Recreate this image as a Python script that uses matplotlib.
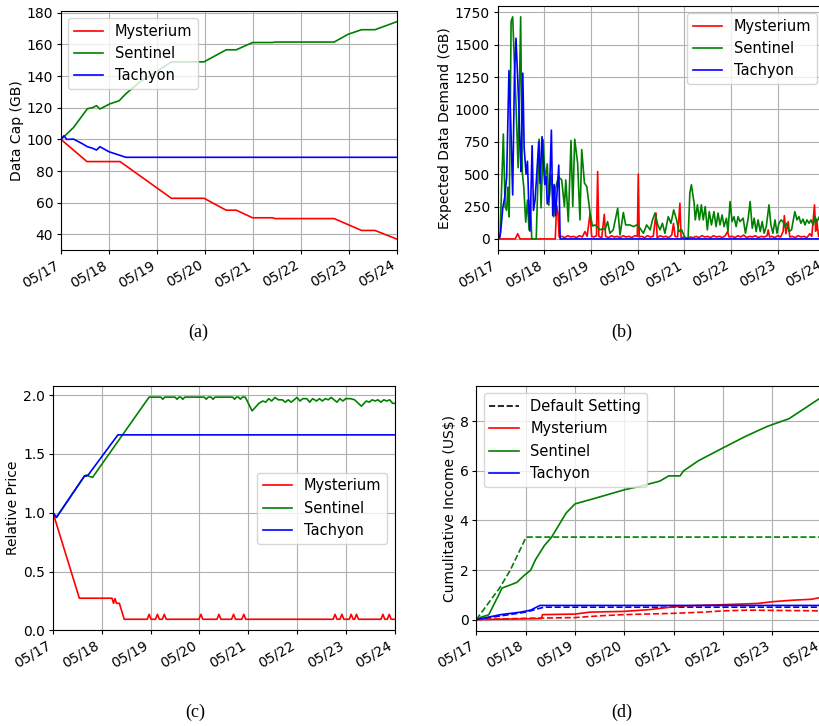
# Node operator data: data cap, demand, price and income over one week

import matplotlib.pyplot as plt
import matplotlib.dates as mdates
import pandas as pd

START = pd.Timestamp("2023-05-17")

# (a) Data cap (GB), time in days
cap_my_t = [0, 0.54, 1.23, 2.3, 2.98, 3.44, 3.65, 3.99, 4.41, 4.46, 5.69, 6.26, 6.54, 7.0]
cap_my_v = [100, 86, 86, 62.8, 62.8, 55.3, 55.3, 50.5, 50.5, 50, 50, 42.5, 42.5, 37]
cap_se_t = [0, 0.26, 0.55, 0.65, 0.74, 0.81, 1.02, 1.21, 1.35, 1.65, 2.0, 2.3, 2.98,
            3.44, 3.65, 3.99, 4.41, 4.46, 5.69, 5.98, 6.26, 6.54, 7.0]
cap_se_v = [100, 107.5, 119.4, 120, 121.3, 119.2, 122.5, 124.4, 128.8, 136.5, 143, 149, 149,
            156.6, 156.6, 161.2, 161.2, 161.5, 161.5, 166.4, 169.3, 169.3, 174.4]
cap_ta_t = [0, 0.06, 0.12, 0.26, 0.43, 0.55, 0.65, 0.74, 0.81, 1.0, 1.2, 1.35, 7.0]
cap_ta_v = [100, 102.3, 100, 100.2, 97.5, 95.4, 94.5, 93.3, 95.4, 92.2, 90.2, 88.7, 88.7]

# (b) Expected data demand (GB), time in hours
dem_my_h = [0, 9, 10.3, 11.5, 29.6, 30.3, 31.0, 31.6, 33, 34.5, 36, 37.5, 39, 40.5, 42, 43.5,
            44.9, 46, 47.5, 48.3, 49.5, 50.8, 51.4, 52, 53.5, 54.8, 55.5, 57, 58.5, 60, 61.5,
            63, 64.5, 66, 67.5, 69, 70.5, 71.8, 72.3, 72.8, 74, 75.5, 77, 78.5, 80, 81.4, 82,
            83.5, 85, 86.5, 88, 89.5, 90.4, 91.2, 92.5, 93.7, 94.3, 96, 97.5, 99, 100.5, 102,
            103.5, 105, 106.5, 108, 109.5, 111, 112.5, 114, 115.5, 117, 118.2, 119, 120.5, 122,
            123.5, 125, 126.5, 128, 129.5, 131, 132.5, 134, 135.5, 137, 138.5, 139.1, 139.8,
            141, 142.5, 144, 145.5, 146.8, 147.4, 148.2, 149.4, 150.2, 151.5, 153, 154.5, 156,
            157.5, 159, 160.5, 161.5, 162.9, 163.5, 164, 165, 166.5, 168]
dem_my_v = [0, 0, 40, 0, 0, 260, 200, 15, 20, 10, 25, 15, 20, 10, 25, 15,
            57, 20, 200, 20, 15, 25, 520, 20, 10, 190, 20, 10, 25, 15, 20,
            10, 25, 15, 20, 10, 25, 20, 500, 15, 20, 10, 25, 15, 20, 200, 10,
            25, 15, 20, 10, 30, 120, 20, 15, 276, 10, 15, 5, 15, 10, 20,
            10, 25, 15, 20, 10, 25, 15, 20, 10, 25, 57, 15, 20, 10,
            25, 15, 30, 10, 20, 15, 25, 10, 20, 15, 25, 70, 15,
            20, 10, 25, 15, 60, 180, 40, 134, 15, 20, 10, 25, 15,
            20, 10, 40, 20, 263, 60, 147, 20, 15, 20]
dem_se_h = [0, 1.2, 2.9, 3.8, 4.6, 5.2, 5.9, 6.9, 7.7, 9.4, 10.5, 11.8, 12.6, 13.4, 14.4, 15.3,
            16.1, 16.8, 17.5, 19.8, 21.3, 22.3, 23.4, 24.4, 25.5, 26.3, 27.3, 28, 28.8, 29.6,
            31.2, 32.9, 34.3, 35, 36.3, 37.7, 38.6, 39.6, 41.1, 42.3, 43.2, 44.6, 45.8, 47.5,
            48.7, 50, 51.4, 52.6, 54.3, 55.2, 56.5, 57.7, 59.4, 61.7, 62.9, 64.6, 65.8, 68,
            69.8, 71.5, 73.2, 74.9, 76.6, 78.4, 79.6, 80.9, 82.3, 83.5, 84.7, 86, 87.7, 89.1,
            90.5, 92, 93.2, 94.6, 96.4, 97.9, 98.8, 99.6, 101, 101.6, 102.7, 103.7, 104.7,
            105.7, 106.7, 107.8, 108.8, 109.9, 111.2, 112.3, 113.3, 114.3, 115.4, 116.4, 117.6,
            118.4, 119.5, 120.5, 121.5, 122.6, 123.6, 124.6, 126.2, 127.4, 128.8, 129.8, 130.9,
            131.9, 132.9, 133.9, 135, 136, 137, 138.1, 139.5, 140.5, 141.5, 142.6, 143.6,
            144.6, 145.7, 146.7, 147.7, 148.7, 149.8, 151.1, 152.8, 153.9, 154.9, 155.9, 157,
            158, 159, 160.1, 161.1, 162.2, 163.2, 164.2, 165.4, 166.5, 168]
dem_se_v = [0, 20, 810, 250, 220, 400, 170, 1680, 1715, 1040, 550, 1715, 520, 400, 130, 300,
            70, 300, 0, 0, 770, 240, 765, 450, 580, 260, 500, 400, 170, 380,
            480, 456, 250, 456, 134, 760, 250, 770, 585, 147, 690, 431, 405, 200,
            100, 108, 90, 70, 82, 70, 134, 44, 70, 237, 31, 204, 108, 108,
            95, 108, 82, 44, 108, 70, 147, 200, 108, 70, 121, 44, 172, 121,
            224, 147, 57, 70, 5, 0, 353, 418, 276, 147, 263, 147, 263,
            147, 250, 70, 211, 108, 211, 95, 200, 108, 185, 95, 160,
            57, 289, 134, 172, 95, 172, 134, 160, 44, 160, 289, 82,
            160, 57, 147, 57, 134, 44, 95, 263, 108, 44, 147, 44,
            121, 147, 134, 95, 121, 57, 70, 211, 147, 172, 121, 153,
            108, 147, 121, 147, 108, 172, 134, 172, 120, 150]
dem_ta_h = [0, 1, 1.5, 2.6, 3.6, 4.6, 5.8, 6.7, 7.7, 8.6, 9.4, 10.1, 10.8, 11.5, 12, 12.9,
            13.6, 14.6, 15.3, 16, 16.6, 17.7, 18.4, 19.2, 20, 21.1, 21.8, 22.8, 23.5, 24.2,
            24.9, 25.5, 26.6, 27.6, 28.3, 29, 29.7, 30.4, 31.4, 32.1, 168]
dem_ta_v = [0, 10, 50, 240, 320, 480, 1300, 900, 340, 1260, 1550, 1300, 1050, 700, 520, 1280,
            700, 500, 600, 250, 60, 720, 220, 300, 480, 750, 430, 790, 600, 420,
            480, 270, 350, 840, 180, 420, 180, 330, 570, 0, 0]

# (c) Relative price, time in days
price_my_t = [0, 0.54, 1.21, 1.24, 1.27, 1.30, 1.36, 1.46,
              1.93, 1.97, 2.01, 2.10, 2.14, 2.18, 2.24, 2.28, 2.32,
              2.99, 3.03, 3.07, 3.36, 3.40, 3.44, 3.66, 3.70, 3.74, 3.87, 3.91, 3.95,
              5.74, 5.78, 5.82, 5.88, 5.92, 5.96, 6.07, 6.11, 6.15, 6.18, 6.22, 6.26,
              6.72, 6.76, 6.80, 6.85, 6.89, 6.93, 7.0]
price_my_v = [1.0, 0.273, 0.273, 0.23, 0.27, 0.23, 0.23, 0.094,
              0.094, 0.136, 0.094, 0.094, 0.136, 0.094, 0.094, 0.136, 0.094,
              0.094, 0.136, 0.094, 0.094, 0.136, 0.094, 0.094, 0.136, 0.094, 0.094, 0.136, 0.094,
              0.094, 0.136, 0.094, 0.094, 0.136, 0.094, 0.094, 0.136, 0.094, 0.094, 0.136, 0.094,
              0.094, 0.136, 0.094, 0.094, 0.136, 0.094, 0.094]
price_se_t = [0, 0.07, 0.65, 0.70, 0.74, 0.81, 1.97, 2.21, 2.25, 2.29, 2.50, 2.54, 2.58, 2.62,
              2.66, 2.70, 3.10, 3.14, 3.18, 3.24, 3.28, 3.32, 3.68, 3.72, 3.76, 3.80, 3.84,
              3.88, 3.94, 4.08, 4.22, 4.30, 4.36, 4.42, 4.48, 4.55, 4.62, 4.70, 4.76, 4.82,
              4.88, 4.94, 5.00, 5.06, 5.12, 5.20, 5.26, 5.32, 5.40, 5.46, 5.52, 5.58, 5.64,
              5.70, 5.76, 5.82, 5.88, 5.94, 6.00, 6.10, 6.18, 6.32, 6.42, 6.48, 6.54, 6.60,
              6.66, 6.72, 6.78, 6.84, 6.90, 6.96, 7.00]
price_se_v = [1.0, 0.96, 1.315, 1.32, 1.31, 1.30, 1.983, 1.983, 1.965, 1.983, 1.983, 1.965,
              1.983, 1.983, 1.965, 1.983, 1.983, 1.965, 1.983, 1.983, 1.965, 1.983, 1.983,
              1.965, 1.983, 1.983, 1.965, 1.983, 1.983, 1.866, 1.93, 1.95, 1.94, 1.97, 1.95,
              1.98, 1.96, 1.96, 1.94, 1.96, 1.94, 1.96, 1.98, 1.95, 1.97, 1.97, 1.94, 1.97,
              1.95, 1.97, 1.95, 1.97, 1.96, 1.98, 1.96, 1.94, 1.97, 1.95, 1.97, 1.97, 1.96,
              1.906, 1.95, 1.94, 1.96, 1.95, 1.96, 1.94, 1.96, 1.95, 1.96, 1.93, 1.93]
price_ta_t = [0, 0.07, 0.65, 0.68, 0.72, 1.33, 7.0]
price_ta_v = [1.0, 0.96, 1.315, 1.31, 1.32, 1.662, 1.662]

# (d) Cumulative income (US$), time in days
inc_my_t = [0, 1.0, 1.32, 1.34, 2.0, 2.3, 3.0, 3.5, 3.94, 4.2, 5.0, 5.7, 6.0, 6.4, 6.8, 7.0]
inc_my_v = [0, 0.03, 0.04, 0.2, 0.22, 0.3, 0.33, 0.4, 0.5, 0.55, 0.6, 0.65, 0.72, 0.78, 0.82, 0.9]
inc_my_def_t = [0, 1.0, 2.0, 2.5, 3.0, 4.0, 4.6, 5.0, 5.5, 7.0]
inc_my_def_v = [0, 0.05, 0.08, 0.15, 0.2, 0.25, 0.3, 0.35, 0.38, 0.35]
inc_se_t = [0, 0.1, 0.25, 0.45, 0.52, 0.68, 0.82, 0.98, 1.1, 1.2, 1.38, 1.52, 1.63, 1.82, 2.0,
            2.36, 3.02, 3.34, 3.72, 3.9, 4.13, 4.2, 4.5, 5.01, 5.45, 5.9, 6.34, 7.0]
inc_se_v = [0, 0.1, 0.19, 0.98, 1.27, 1.39, 1.5, 1.8, 1.99, 2.42, 2.99, 3.31, 3.67, 4.3, 4.67,
            4.87, 5.25, 5.39, 5.59, 5.8, 5.8, 6.0, 6.41, 6.94, 7.39, 7.8, 8.11, 8.98]
inc_se_def_t = [0, 0.48, 0.69, 1.01, 7.0]
inc_se_def_v = [0, 1.3, 2.0, 3.33, 3.33]
inc_ta_t = [0, 0.5, 0.9, 1.1, 1.29, 7.0]
inc_ta_v = [0, 0.2, 0.3, 0.38, 0.57, 0.57]
inc_ta_def_t = [0, 1.0, 1.37, 7.0]
inc_ta_def_v = [0, 0.3, 0.5, 0.5]


def days(t):
    return START + pd.to_timedelta(t, unit="D")


def hours(t):
    return START + pd.to_timedelta(t, unit="h")


FS = 10.5
LW = 1.2

fig = plt.figure(figsize=(8.19, 7.26), dpi=100)
ax_a = fig.add_axes([0.0745, 0.6556, 0.4103, 0.3296])
ax_b = fig.add_axes([0.6077, 0.6556, 0.3989, 0.3365])
ax_c = fig.add_axes([0.0647, 0.1318, 0.4171, 0.3365])
ax_d = fig.add_axes([0.5816, 0.1313, 0.4216, 0.3370])

# (a)
ax_a.plot(days(cap_my_t), cap_my_v, color="red", lw=LW, label="Mysterium")
ax_a.plot(days(cap_se_t), cap_se_v, color="green", lw=LW, label="Sentinel")
ax_a.plot(days(cap_ta_t), cap_ta_v, color="blue", lw=LW, label="Tachyon")
ax_a.set_ylabel("Data Cap (GB)", fontsize=10, labelpad=2)
ax_a.legend(loc="upper left", fontsize=FS)

# (b)
ax_b.plot(hours(dem_my_h), dem_my_v, color="red", lw=LW, label="Mysterium")
ax_b.plot(hours(dem_se_h), dem_se_v, color="green", lw=LW, label="Sentinel")
ax_b.plot(hours(dem_ta_h), dem_ta_v, color="blue", lw=LW, label="Tachyon")
ax_b.set_ylabel("Expected Data Demand (GB)", fontsize=10, labelpad=2)
ax_b.legend(loc="upper right", fontsize=FS)

# (c)
ax_c.plot(days(price_my_t), price_my_v, color="red", lw=LW, label="Mysterium")
ax_c.plot(days(price_se_t), price_se_v, color="green", lw=LW, label="Sentinel")
ax_c.plot(days(price_ta_t), price_ta_v, color="blue", lw=LW, label="Tachyon")
ax_c.set_ylim(bottom=0)
ax_c.set_ylabel("Relative Price", fontsize=10, labelpad=2)
ax_c.legend(loc="center right", fontsize=FS)

# (d)
ax_d.plot(days(inc_my_def_t), inc_my_def_v, color="red", lw=LW, ls="--")
ax_d.plot(days(inc_se_def_t), inc_se_def_v, color="green", lw=LW, ls="--")
ax_d.plot(days(inc_ta_def_t), inc_ta_def_v, color="blue", lw=LW, ls="--")
ax_d.plot([], [], color="black", lw=LW, ls="--", label="Default Setting")
ax_d.plot(days(inc_my_t), inc_my_v, color="red", lw=LW, label="Mysterium")
ax_d.plot(days(inc_se_t), inc_se_v, color="green", lw=LW, label="Sentinel")
ax_d.plot(days(inc_ta_t), inc_ta_v, color="blue", lw=LW, label="Tachyon")
ax_d.set_ylabel("Cumulitative Income (US$)", fontsize=10, labelpad=2)
ax_d.legend(loc="upper left", fontsize=FS)

for ax in (ax_a, ax_b, ax_c, ax_d):
    ax.set_xlim(START, days(7))
    ax.xaxis.set_major_locator(mdates.DayLocator())
    ax.xaxis.set_major_formatter(mdates.DateFormatter("%m/%d"))
    ax.tick_params(labelsize=10, length=2.8, pad=2.8)
    for lbl in ax.get_xticklabels():
        lbl.set_rotation(30)
        lbl.set_ha("right")
    ax.grid(True)

for x, y, s in [(198, 332, "(a)"), (622, 332, "(b)"), (195, 712, "(c)"), (622, 712, "(d)")]:
    fig.text(x / 819, 1 - y / 726, s, ha="center", va="center",
             family="Liberation Serif", fontsize=13)

fig.savefig("out.png", dpi=100)
